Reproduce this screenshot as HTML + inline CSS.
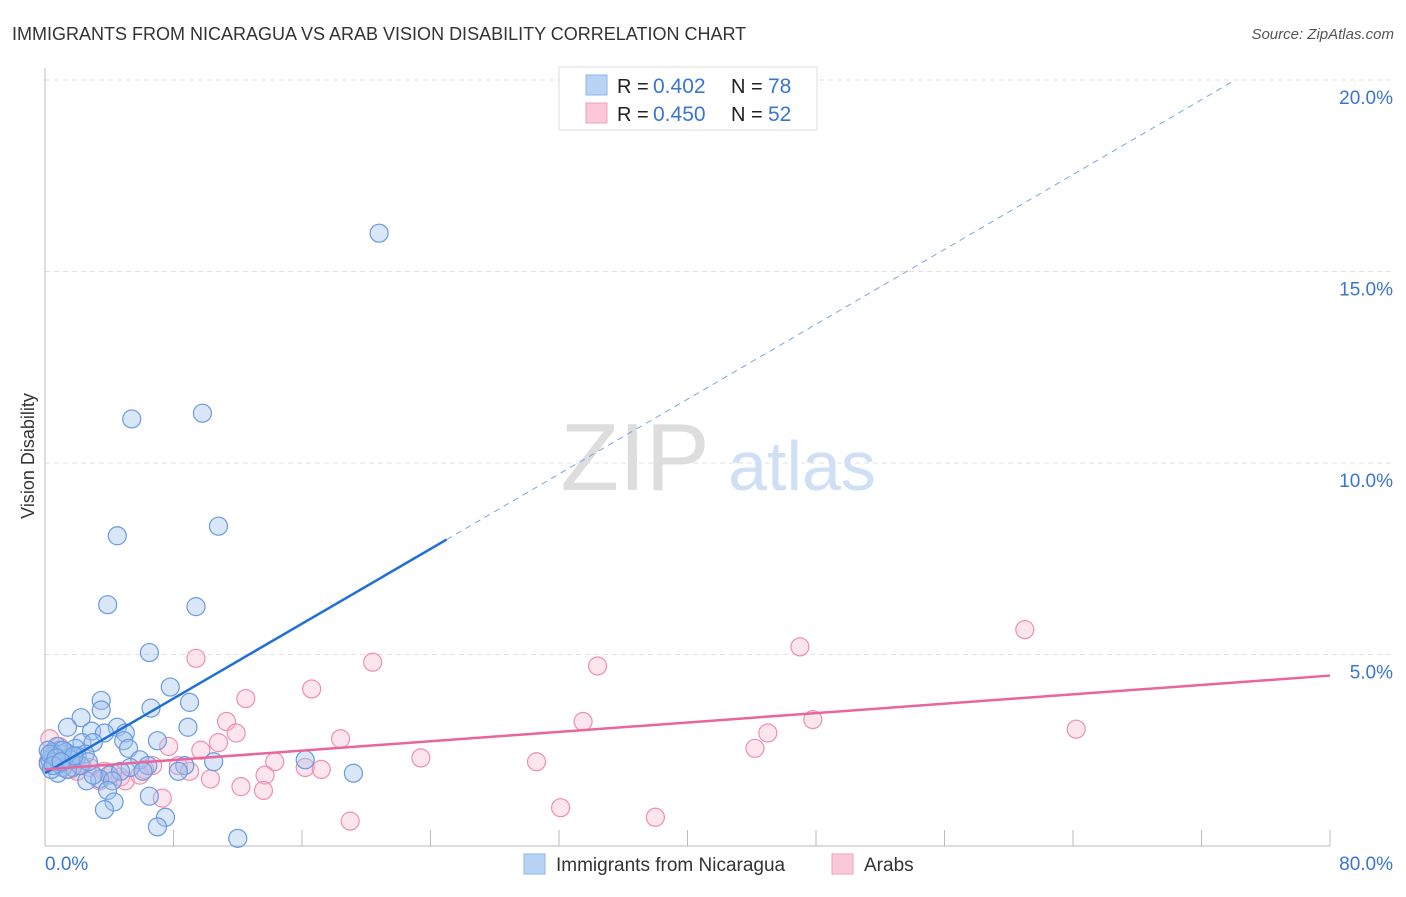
<!DOCTYPE html>
<html><head><meta charset="utf-8"><style>
body{margin:0;background:#fff;font-family:"Liberation Sans",sans-serif;}
svg text{font-family:"Liberation Sans",sans-serif;}
</style></head><body>
<svg id="chart" width="1406" height="892">
<text x="12" y="40" font-size="18" fill="#333">IMMIGRANTS FROM NICARAGUA VS ARAB VISION DISABILITY CORRELATION CHART</text>
<text x="1394" y="39" font-size="15" fill="#555" font-style="italic" text-anchor="end">Source: ZipAtlas.com</text>
<text x="0" y="0" font-size="18" fill="#333" transform="translate(34,456) rotate(-90)" text-anchor="middle">Vision Disability</text>
<g id="grid"></g>
<text x="635" y="490" font-size="96" fill="#ddd" font-family="Liberation Serif" text-anchor="middle">ZIP</text>
<text x="802" y="490" font-size="70" fill="#d0e0f4" text-anchor="middle">atlas</text>
<g id="pts"></g>
<g id="lines"></g>
<g>
<rect x="559" y="67" width="258" height="63" fill="#fff" stroke="#ddd"/>
<rect x="586" y="75" width="21" height="20" fill="#b9d3f5" stroke="#8db4ea"/>
<rect x="586" y="103" width="21" height="20" fill="#fac8d8" stroke="#f0a0bb"/>
<text x="617" y="93" font-size="20" fill="#222">R =</text>
<text x="653" y="93" font-size="21" fill="#3a75d0">0.402</text>
<text x="731" y="93" font-size="20" fill="#222">N =</text>
<text x="768" y="93" font-size="21" fill="#3a75d0">78</text>
<text x="617" y="121" font-size="20" fill="#222">R =</text>
<text x="653" y="121" font-size="21" fill="#3a75d0">0.450</text>
<text x="731" y="121" font-size="20" fill="#222">N =</text>
<text x="768" y="121" font-size="21" fill="#3a75d0">52</text>
</g>
<g>
<rect x="524" y="854" width="21" height="20" fill="#b9d3f5" stroke="#8db4ea"/>
<text x="556" y="871" font-size="19" fill="#333">Immigrants from Nicaragua</text>
<rect x="832" y="854" width="21" height="20" fill="#fac8d8" stroke="#f0a0bb"/>
<text x="864" y="871" font-size="19" fill="#333">Arabs</text>
</g>
</svg>
<script>
const xTicks=[0,8,16,24,32,40,48,56,64,72,80];
const yTicks=[5,10,15,20];
const yTickLabels=["5.0%","10.0%","15.0%","20.0%"];
const blueX=[20.8,5.4,9.8,4.5,10.8,3.9,9.4,6.5,7.8,3.5,6.6,9.0,3.5,2.25,1.4,4.5,8.9,2.9,3.7,5.0,7.0,2.3,3.0,4.9,5.2,16.2,0.9,1.9,0.45,0.6,1.2,2.5,5.9,6.4,8.7,10.5,5.3,0.2,1.7,1.1,4.0,4.7,6.1,8.3,19.2,3.4,2.6,3.0,4.2,3.9,6.5,4.3,3.7,7.5,7.0,12.0,0.8,0.3,0.75,0.5,1.0,1.5,0.2,0.6,1.3,2.0,0.4,0.9,1.6,2.2,0.3,1.1,0.7,1.4,2.7,0.5,1.8,1.0];
const blueY=[16.0,11.15,11.3,8.1,8.35,6.3,6.25,5.05,4.15,3.8,3.6,3.75,3.55,3.35,3.1,3.1,3.1,3.0,2.95,2.95,2.75,2.7,2.7,2.75,2.55,2.25,2.5,2.55,2.45,2.3,2.3,2.4,2.25,2.1,2.1,2.2,2.05,2.15,2.05,2.05,1.85,1.95,1.95,1.95,1.9,1.75,1.7,1.85,1.7,1.45,1.3,1.15,0.95,0.75,0.5,0.2,1.9,2.25,2.6,2.35,2.4,2.3,2.5,2.2,2.45,2.35,2.0,2.15,2.25,2.1,2.4,2.5,2.3,2.0,2.2,2.1,2.35,2.2];
const pinkX=[61.0,47.0,34.4,20.4,9.4,16.6,12.5,64.2,47.8,33.5,45.0,11.3,11.9,10.8,18.4,7.7,9.7,44.2,23.4,30.6,14.3,16.2,17.2,6.7,8.3,9.0,13.7,10.3,12.2,13.6,7.3,32.1,38.0,19.0,0.3,0.9,1.9,2.8,3.7,4.7,5.0,1.6,3.4,5.9,0.5,1.2,2.3,4.2,6.2,0.2,1.0,2.0];
const pinkY=[5.65,5.2,4.7,4.8,4.9,4.1,3.85,3.05,3.3,3.25,2.95,3.25,2.95,2.7,2.8,2.6,2.5,2.55,2.3,2.2,2.2,2.05,2.0,2.1,2.1,1.95,1.85,1.75,1.55,1.45,1.25,1.0,0.75,0.65,2.8,2.6,2.2,2.05,1.95,1.8,1.7,2.0,1.7,1.85,2.4,2.3,2.1,1.9,2.0,2.2,2.15,1.95];
const blueTrend=[[0,1.9],[25,8.0],[74.1,20.0]];
const pinkTrend=[[0,2.0],[80,4.45]];
const X=v=>45+v*1285/80;
const Y=v=>846-v*38.3;
const NS="http://www.w3.org/2000/svg";
function mk(tag,attrs,parent){const e=document.createElementNS(NS,tag);for(const k in attrs)e.setAttribute(k,attrs[k]);document.getElementById(parent).appendChild(e);return e;}
const g="grid";
yTicks.forEach((t,i)=>{
 const l=mk("line",{x1:45,x2:1395,y1:Y(t),y2:Y(t),stroke:"#e2e2e2","stroke-dasharray":"5,4"},g);
 
 
 const tx=mk("text",{x:1393,y:Y(t)+24,"font-size":19,fill:"#3a75d0","text-anchor":"end"},g);
 tx.textContent=yTickLabels[i];
 
 
});
const ax=mk("line",{x1:45,x2:1330,y1:846,y2:846,stroke:"#bbb"},g);


const ay=mk("line",{x1:45,x2:45,y1:68,y2:846,stroke:"#bbb"},g);


xTicks.forEach(t=>{
 const l=mk("line",{x1:X(t),x2:X(t),y1:830,y2:846,stroke:"#bbb"},g);
 
 
});
const x0=mk("text",{x:45,y:870,"font-size":19,fill:"#3a75d0"},g);x0.textContent="0.0%";


const x1=mk("text",{x:1393,y:870,"font-size":19,fill:"#3a75d0","text-anchor":"end"},g);x1.textContent="80.0%";


pinkX.forEach((v,i)=>{
 const c=mk("circle",{cx:X(v),cy:Y(pinkY[i]),r:9,fill:"rgba(248,180,205,0.35)",stroke:"#ee8fb0","stroke-width":1.2},"pts");
 
 
});
blueX.forEach((v,i)=>{
 const c=mk("circle",{cx:X(v),cy:Y(blueY[i]),r:9,fill:"rgba(160,195,240,0.4)",stroke:"#6a9ade","stroke-width":1.2},"pts");
 
 
});
const b1=mk("line",{x1:X(blueTrend[0][0]),y1:Y(blueTrend[0][1]),x2:X(blueTrend[1][0]),y2:Y(blueTrend[1][1]),stroke:"#1f6fd8","stroke-width":2.5},"lines");


const b2=mk("line",{x1:X(blueTrend[1][0]),y1:Y(blueTrend[1][1]),x2:X(blueTrend[2][0]),y2:Y(blueTrend[2][1]),stroke:"#7aa6e0","stroke-width":1,"stroke-dasharray":"6,5"},"lines");


const p1=mk("line",{x1:X(pinkTrend[0][0]),y1:Y(pinkTrend[0][1]),x2:X(pinkTrend[1][0]),y2:Y(pinkTrend[1][1]),stroke:"#e8669a","stroke-width":2.5},"lines");


</script>
</body></html>
